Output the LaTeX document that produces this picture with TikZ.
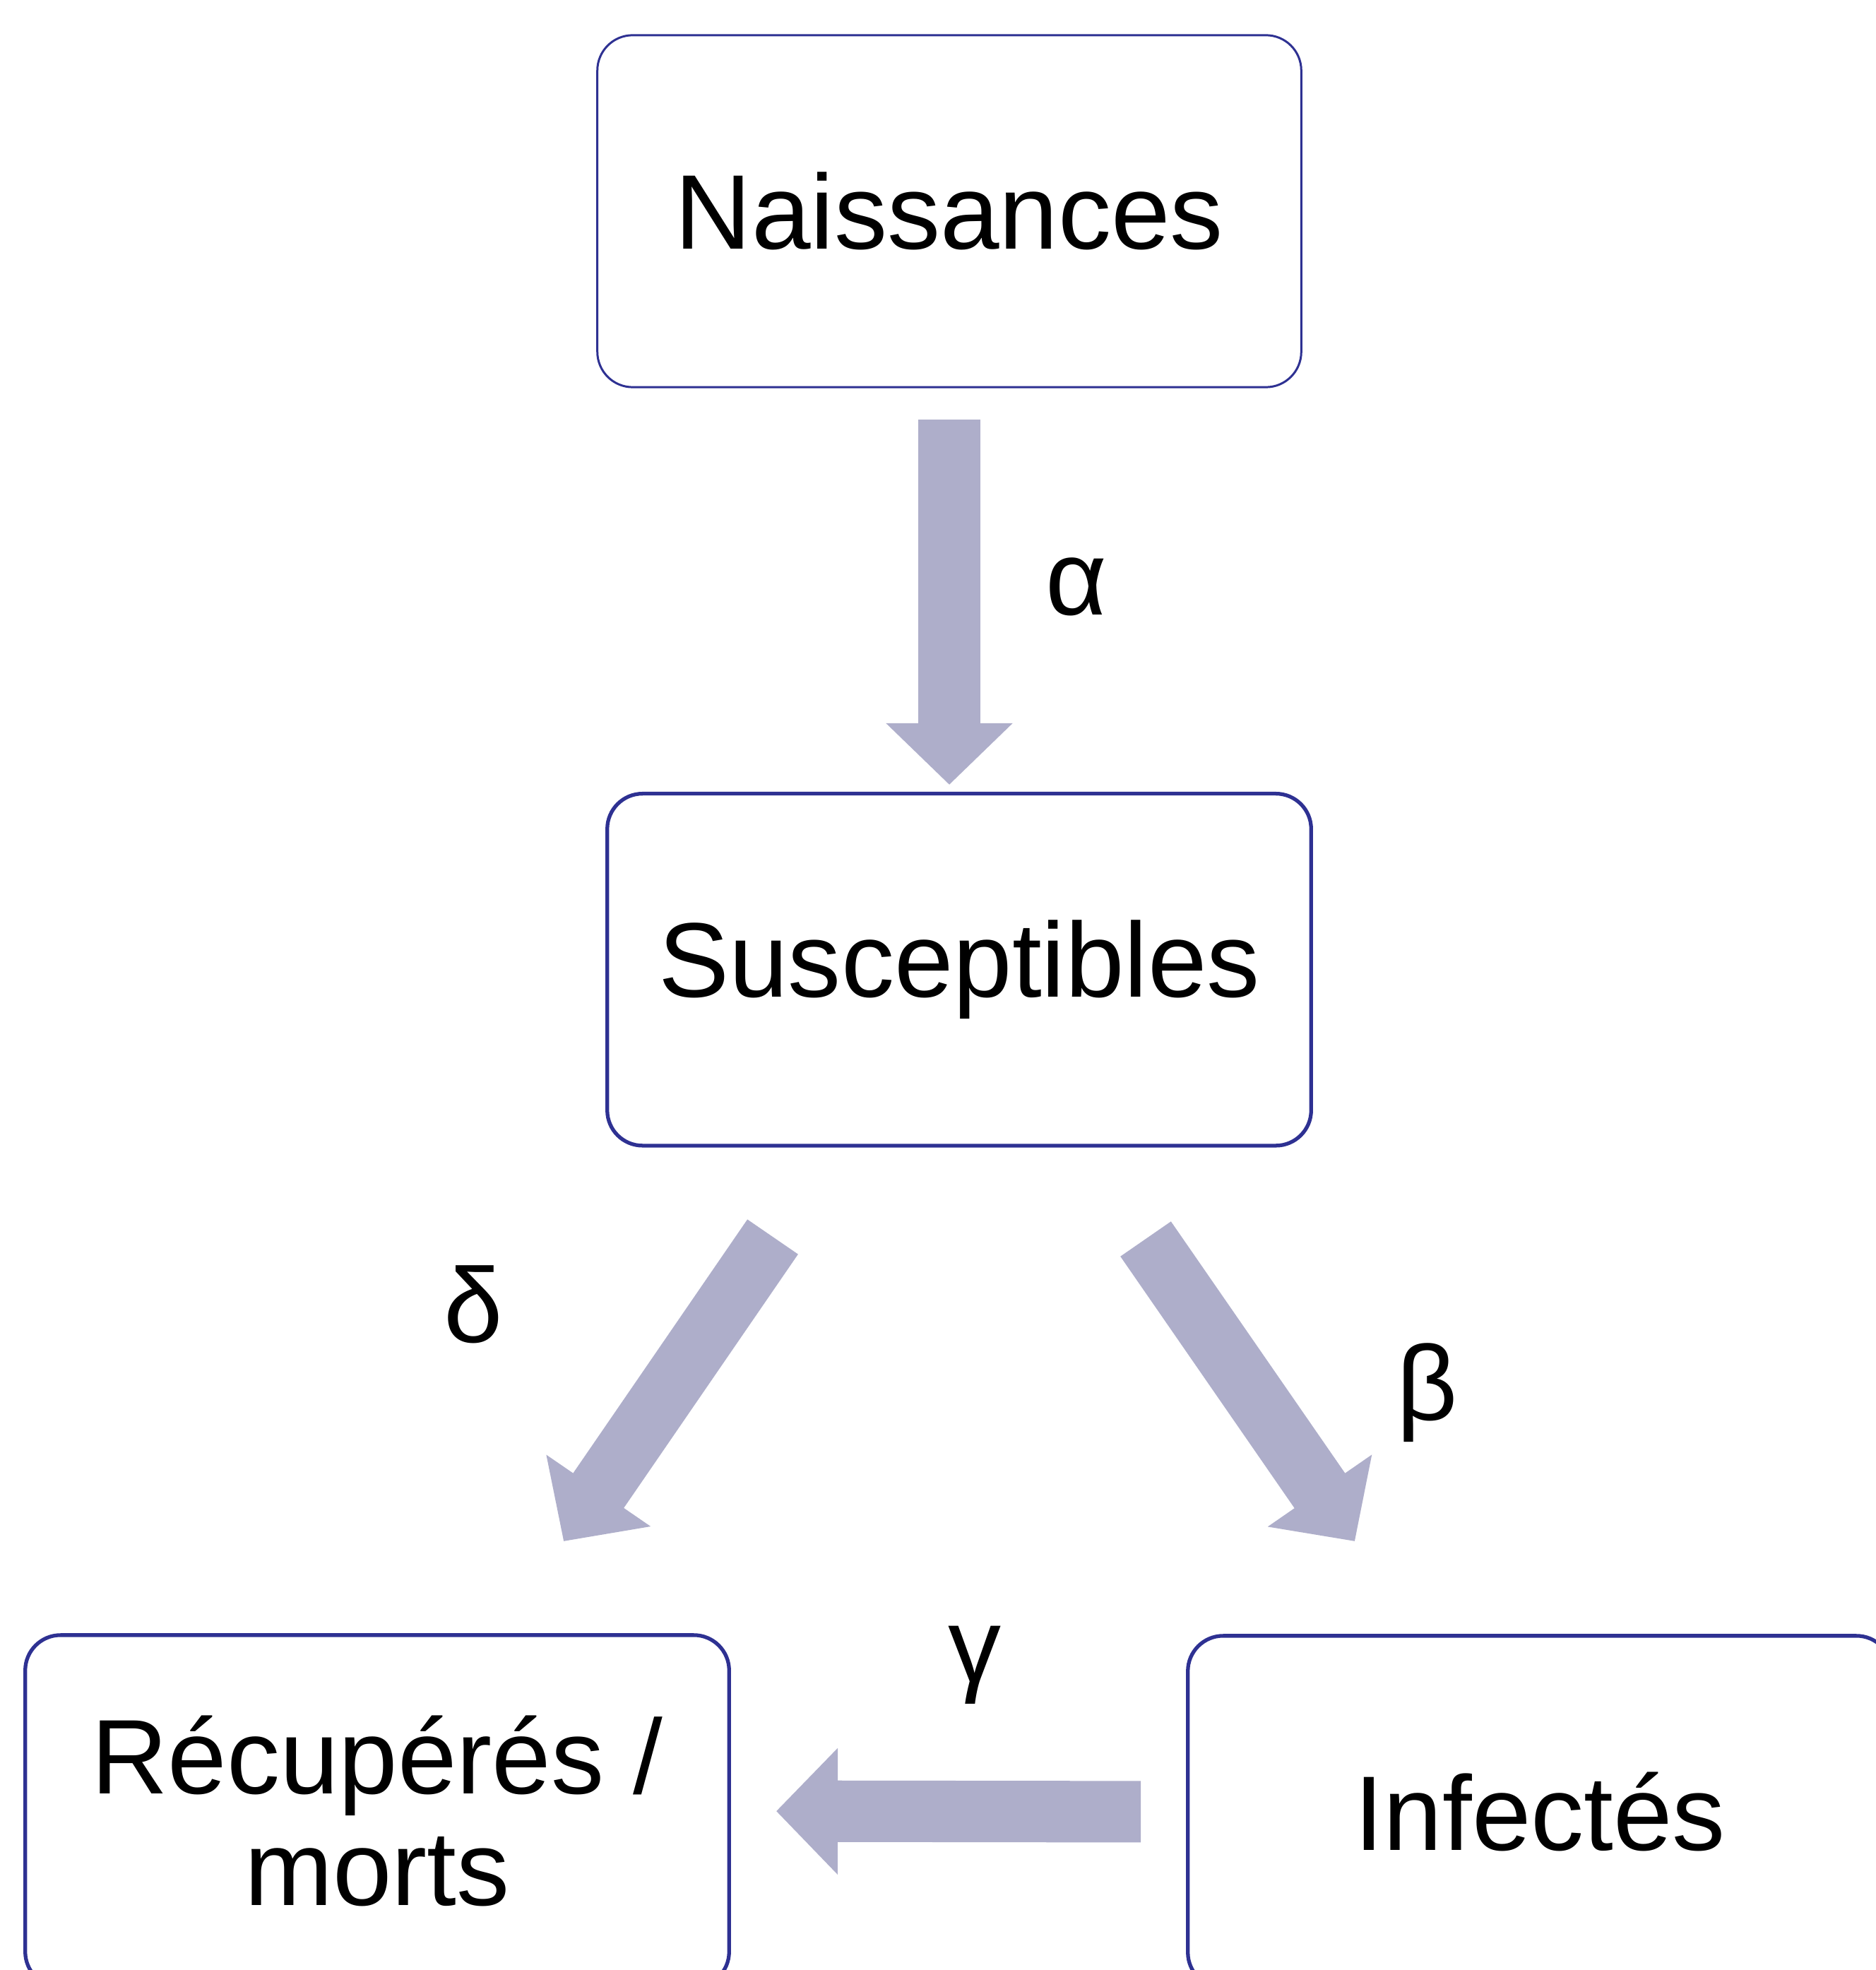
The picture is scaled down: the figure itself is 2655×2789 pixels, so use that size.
\documentclass[tikz,border=0pt]{standalone}
\usepackage{fontspec}
\setmainfont{Liberation Sans}
\usetikzlibrary{
  arrows.meta,
  positioning,
}
\definecolor{boxblue}{RGB}{46, 49, 146}
\definecolor{flowgrey}{RGB}{174, 174, 202}
\tikzstyle{box} = [
  draw=boxblue,
  rectangle,
  rounded corners=0.5cm,
  line width=1.5pt,
  minimum width=9.96cm,
  minimum height=4.98cm,
  align=center,
  font=\fontsize{42.7}{45}\selectfont,
]
\tikzstyle{flow} = [
  -{Triangle[length=0.87cm,width=1.74cm]},
  line width=0.87cm,
  flowgrey,
]
\tikzstyle{rate} = [
  anchor=base,
  font=\fontsize{42.7}{45}\selectfont,
]

\begin{document}
\begin{tikzpicture}[x=0.01cm,y=-0.01cm,node distance=5.71cm and 0cm]
    \useasboundingbox (0,0) rectangle (2655,2789);
    % compartments
    \node[box,line width=0.85pt] (naiss) at (1344,299) {Naissances};
    \node[box] (susc) [below=of naiss,xshift=0.14cm] {Susceptibles};
    \node[box] (recup) at (534,2564) {Récupérés /\\morts};
    \node[box] (infect) at (2180,2565) {Infectés};

    % flows
    \coordinate (d0) at (1094,1751);
    \coordinate (d1) at (798,2182);
    \coordinate (b0) at (1622,1754);
    \coordinate (b1) at (1918,2182);
    \draw[flow,shorten <=0.44cm,shorten >=0.1cm] (naiss.south) -- (naiss.south |- susc.north);
    \draw[flow] (d0) -- (d1);
    \draw[flow] (b0) -- (b1);
    \draw[flow,shorten <=0.64cm,shorten >=0.64cm] (infect.west) -- (recup.east);

    % rates
    \node[rate] (alpha) at (1524,871) {α};
    \node[rate] (delta) at (670,1900) {δ};
    \node[rate] (beta) at (2021,2010) {β};
    \node[rate] (gamma) at (1380,2381) {γ};
\end{tikzpicture}
\end{document}
